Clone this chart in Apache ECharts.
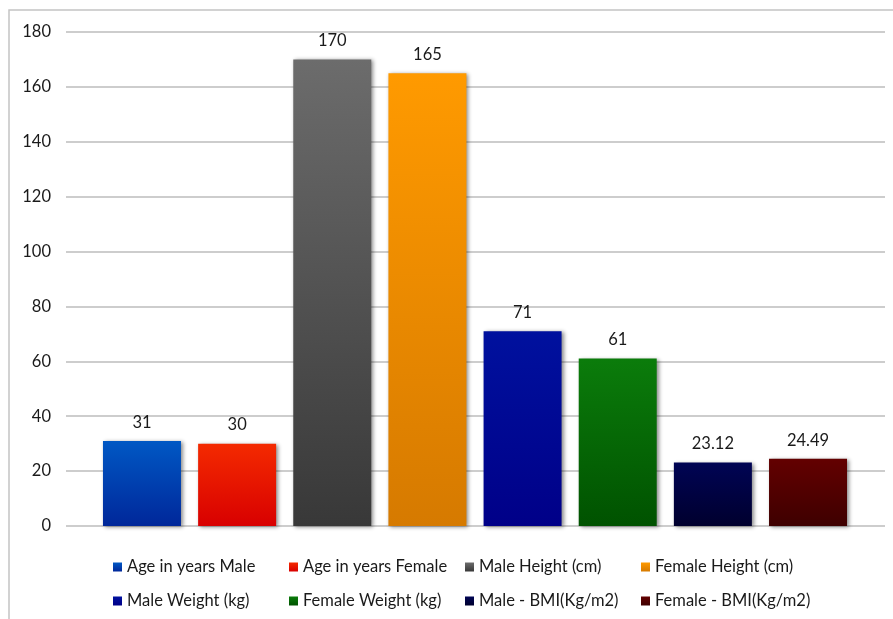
<!DOCTYPE html>
<html>
<head>
<meta charset="utf-8">
<script src="https://cdn.jsdelivr.net/npm/echarts@6/dist/echarts.min.js"></script>
<style>
html,body{margin:0;padding:0;background:#fff;}
#chart{width:893px;height:619px;}
</style>
</head>
<body>
<div id="chart"></div>
<script>
const seriesNames = ['Age in years Male','Age in years Female','Male Height (cm)','Female Height (cm)','Male Weight (kg)','Female Weight (kg)','Male - BMI(Kg/m2)','Female - BMI(Kg/m2)'];
const values = [31, 30, 170, 165, 71, 61, 23.12, 24.49];
const topColors = ['#0058c4','#f42a00','#6c6c6c','#ff9a00','#00119e','#0b7c0b','#000454','#630000'];
const bottomColors = ['#00279a','#d80000','#383838','#d67a00','#000088','#005200','#00002e','#3e0000'];
const yTicks = [0,20,40,60,80,100,120,140,160,180];

const chart = echarts.init(document.getElementById('chart'));
const FONT = 'Lato';

const series = seriesNames.map((name, i) => ({
  name: name,
  type: 'bar',
  stack: 'all',
  xAxisIndex: 1,
  yAxisIndex: 1,
  barWidth: 78,
  data: values.map((v, j) => (j === i ? v : null)),
  itemStyle: {
    color: new echarts.graphic.LinearGradient(0, 0, 0, 1, [
      {offset: 0, color: topColors[i]},
      {offset: 1, color: bottomColors[i]}
    ]),
    shadowBlur: 4,
    shadowColor: 'rgba(0,0,0,0.45)',
    shadowOffsetX: 2,
    shadowOffsetY: 1
  },
  label: {
    show: true,
    position: 'top',
    distance: 10,
    fontFamily: FONT,
    fontSize: 16.5,
    color: '#1a1a1a',
    formatter: p => p.value
  }
}));

chart.setOption({
  animation: false,
  graphic: [{
    type: 'rect',
    shape: {x: 9, y: 10, width: 1000, height: 1000},
    style: {fill: 'none', stroke: '#c4c4c4', lineWidth: 1.5},
    silent: true
  }],
  grid: [
    {left: 66, right: 8, top: 32, bottom: 93},
    {left: 94.4, right: 37.4, top: 32, bottom: 93}
  ],
  xAxis: [
    {gridIndex: 0, type: 'category', data: [''], show: false},
    {gridIndex: 1, type: 'category', data: seriesNames, show: false}
  ],
  yAxis: [
    {
      gridIndex: 0, type: 'value', min: 0, max: 180, interval: 20,
      axisLine: {show: false}, axisTick: {show: false},
      axisLabel: {fontFamily: FONT, fontSize: 16.5, color: '#1a1a1a', margin: 15},
      splitLine: {lineStyle: {color: '#bdbdbd', width: 1.5}}
    },
    {
      gridIndex: 1, type: 'value', min: 0, max: 180, interval: 20, show: false,
      splitLine: {show: false}
    }
  ],
  legend: {
    left: 108, top: 550, width: 720,
    itemWidth: 9, itemHeight: 9, itemGap: 10,
    icon: 'rect',
    textStyle: {fontFamily: FONT, fontSize: 16.5, color: '#1a1a1a', width: 152, lineHeight: 24},
    data: seriesNames
  },
  series: series
});
</script>
</body>
</html>
